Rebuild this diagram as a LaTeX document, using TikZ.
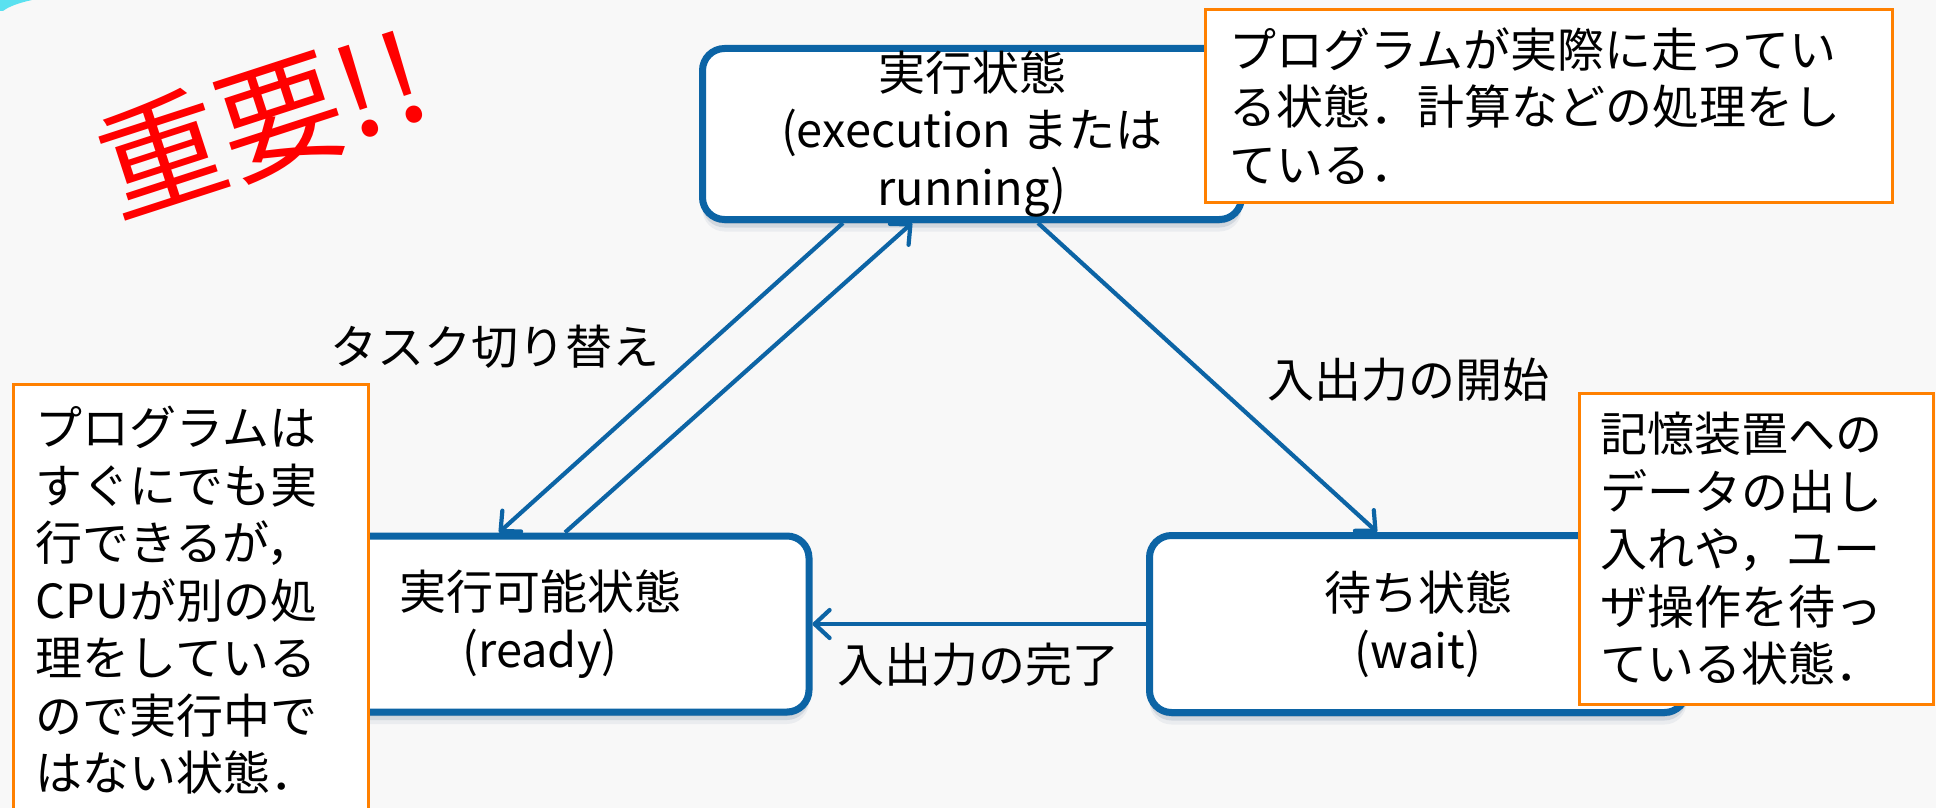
\documentclass[tikz,border=0pt]{standalone}
\usepackage{fontspec}
\setmainfont{Noto Sans CJK JP}
\usetikzlibrary{arrows.meta,shadows}
\definecolor{bgcol}{RGB}{248,248,248}
\definecolor{nodeblue}{RGB}{12,100,165}
\definecolor{boxorange}{RGB}{255,128,0}
\definecolor{shadowblue}{RGB}{60,90,125}
\definecolor{cornercyan}{RGB}{90,225,240}
\begin{document}
\begin{tikzpicture}[x=1pt,y=-1pt,
  jp/.style={font=\fontsize{47pt}{57.5pt}\selectfont},
  state/.style={draw=nodeblue, line width=7pt, fill=white, rounded corners=22pt,
    align=center, jp, inner sep=0pt,
    drop shadow={shadow xshift=0pt, shadow yshift=-12pt, opacity=0.07, fill=shadowblue},
    drop shadow={shadow xshift=0pt, shadow yshift=-8pt, opacity=0.14, fill=shadowblue},
    drop shadow={shadow xshift=0pt, shadow yshift=-4pt, opacity=0.25, fill=shadowblue}},
  note/.style={draw=boxorange, line width=3pt, fill=white, align=left, jp,
    anchor=north west, inner ysep=0pt},
  arr/.style={draw=nodeblue, line width=4.2pt,
    -{Straight Barb[length=15pt,width=28pt,round]}},
  lbl/.style={jp, inner sep=0pt}
]
\useasboundingbox (0,0) rectangle (1936,808);
\fill[bgcol] (0,0) rectangle (1936,808);
\fill[cornercyan] (0,0) -- (32,0) .. controls (18,3) and (8,7) .. (3,11) -- (0,11) -- cycle;

\node[font=\fontsize{124pt}{124pt}\selectfont, text=red, rotate=18, inner sep=0pt]
  (important) at (262,122) {重要!\kern6pt!};

\node[state, minimum width=539pt, minimum height=171pt] (top) at (972,134)
  {実行状態\\(execution または\\running)};
\node[state, minimum width=538pt, minimum height=176pt] (ready) at (540,624)
  {実行可能状態\\(ready)};
\node[state, minimum width=537pt, minimum height=177pt] (wait) at (1418,624)
  {待ち状態\\(wait)};

\draw[arr] ([xshift=-129pt]top.south) -- ([xshift=-41pt]ready.north);
\draw[arr] ([xshift=25pt]ready.north) -- ([xshift=-60pt]top.south);
\draw[arr] ([xshift=66pt]top.south) -- ([xshift=-41pt]wait.north);
\draw[arr] (wait.west) -- (ready.east);

\node[lbl] (lswitch) at (495,347) {タスク切り替え};
\node[lbl] (lstart) at (1408,380) {入出力の開始};
\node[lbl] (ldone) at (978,665) {入出力の完了};

\node[note, inner xsep=24pt, text width=639pt, minimum height=193pt] (noterun) at (1204,8)
  {プログラムが実際に走ってい\\る状態．計算などの処理をし\\ている．};
\node[note, inner xsep=22pt, text width=311pt, minimum height=432pt] (noteready) at (12,383)
  {プログラムは\\すぐにでも実\\行できるが，\\CPUが別の処\\理をしている\\ので実行中で\\はない状態．};
\node[note, inner xsep=21pt, text width=312pt, minimum height=311pt] (notewait) at (1578,392)
  {記憶装置への\\データの出し\\入れや，ユー\\ザ操作を待っ\\ている状態．};
\end{tikzpicture}
\end{document}
